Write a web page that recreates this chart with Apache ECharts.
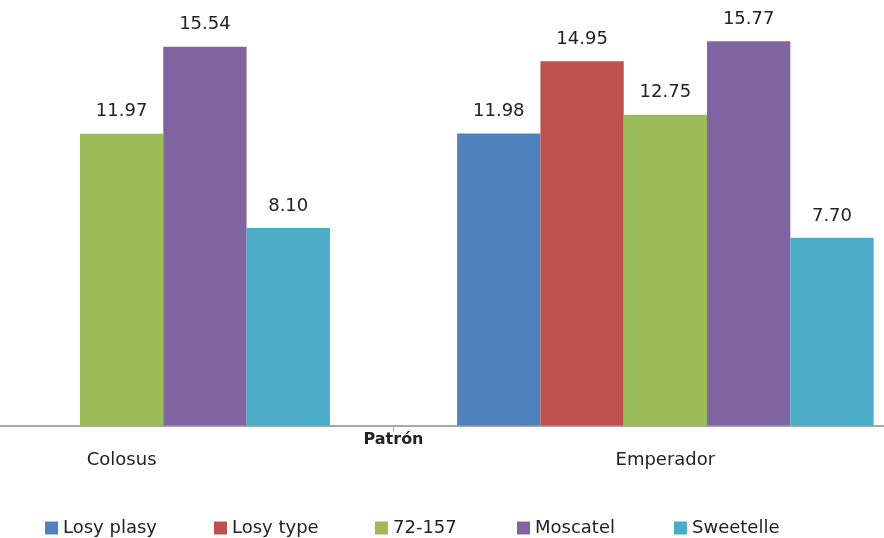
<!DOCTYPE html>
<html>
<head>
<meta charset="utf-8">
<script src="https://cdn.jsdelivr.net/npm/echarts@6/dist/echarts.min.js"></script>
<style>
  html, body { margin: 0; padding: 0; background: #fff; }
  #chart { width: 884px; height: 538px; }
</style>
</head>
<body>
<div id="chart"></div>
<script>
// Yield per cultivar, grouped by rootstock ("Patrón")
const categories = ['Colosus', 'Emperador'];
const seriesNames = ['Losy plasy', 'Losy type', '72-157', 'Moscatel', 'Sweetelle'];
const losyPlasy = [null, 11.98];
const losyType = [null, 14.95];
const v72157 = [11.97, 12.75];
const moscatel = [15.54, 15.77];
const sweetelle = [8.10, 7.70];
const colors = ['#4F81BD', '#C0504D', '#9BBB59', '#8064A2', '#4BACC6'];

const seriesValues = [losyPlasy, losyType, v72157, moscatel, sweetelle];
const textColor = '#222222';
const font = 'DejaVu Sans';

const chart = echarts.init(document.getElementById('chart'), null, { renderer: 'canvas' });

// one legend block per entry so the keys sit spaced out along the bottom
const legendLefts = [45, 214, 375, 517, 674];
const legends = seriesNames.map((name, i) => ({
  data: [name],
  left: legendLefts[i],
  top: 519,
  padding: 0,
  itemWidth: 13,
  itemHeight: 13,
  icon: 'rect',
  textStyle: { color: textColor, fontSize: 18, fontFamily: font }
}));

chart.setOption({
  animation: false,
  color: colors,
  legend: legends,
  // the plot runs wider than the canvas on both sides
  grid: {
    left: -150.25, right: -53.25, top: 11.2, bottom: 112.5,
    containLabel: false,
    outerBoundsMode: 'none'
  },
  xAxis: {
    type: 'category',
    data: categories,
    name: 'Patrón',
    nameLocation: 'middle',
    nameGap: 6,
    nameMoveOverlap: false,
    nameTextStyle: { color: textColor, fontSize: 16, fontWeight: 'bold', fontFamily: font },
    axisLine: { lineStyle: { color: '#a8a8a8', width: 2 } },
    axisTick: { show: true, length: 6, lineStyle: { color: '#a8a8a8' } },
    axisLabel: { color: textColor, fontSize: 18, fontFamily: font, margin: 26 }
  },
  yAxis: {
    type: 'value',
    min: 0,
    max: 17,
    show: false,
    splitLine: { show: false }
  },
  series: seriesNames.map((name, i) => ({
    name: name,
    type: 'bar',
    data: seriesValues[i],
    barWidth: 83.3,
    barGap: '0%',
    itemStyle: { color: colors[i] },
    label: {
      show: true,
      position: 'top',
      distance: 13,
      color: textColor,
      fontSize: 18,
      fontFamily: font,
      formatter: p => p.value == null ? '' : Number(p.value).toFixed(2)
    }
  }))
});
</script>
</body>
</html>
